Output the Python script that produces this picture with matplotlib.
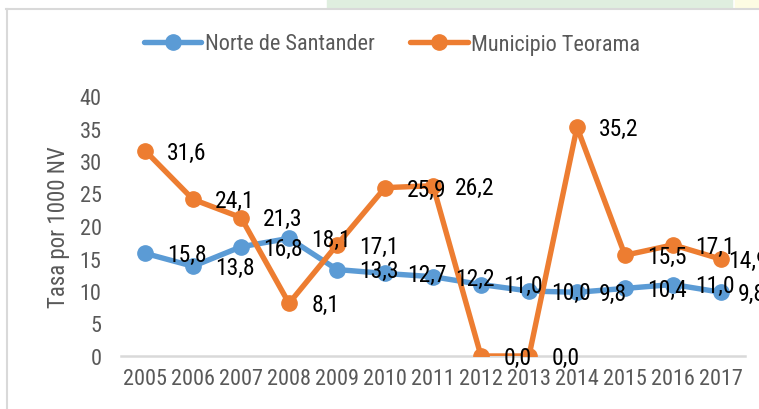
import matplotlib
matplotlib.use("Agg")
import matplotlib.pyplot as plt
from matplotlib import font_manager
from matplotlib.patches import Rectangle
from matplotlib.lines import Line2D

years = ["2005", "2006", "2007", "2008", "2009", "2010", "2011",
         "2012", "2013", "2014", "2015", "2016", "2017"]
norte = [15.8, 13.8, 16.8, 18.1, 13.3, 12.7, 12.2, 11.0, 10.0, 9.8, 10.4, 11.0, 9.8]
teorama = [31.6, 24.1, 21.3, 8.1, 17.1, 25.9, 26.2, 0.0, 0.0, 35.2, 15.5, 17.1, 14.9]
series_names = ["Norte de Santander", "Municipio Teorama"]
y_label = "Tasa por 1000 NV"

avail = {f.name for f in font_manager.fontManager.ttflist}
fam = "DejaVu Sans"
for cand in ["Liberation Sans Narrow", "Roboto Condensed", "Open Sans Condensed", "Liberation Sans"]:
    if cand in avail:
        fam = cand
        break
plt.rcParams["font.family"] = [fam, "DejaVu Sans"]

BLUE = "#5B9BD5"
ORANGE = "#ED7D31"
GREY = "#595959"

fig = plt.figure(figsize=(7.59, 4.10), dpi=100)
fig.patch.set_facecolor("white")

# top decorative strip and chart border
fig.patches.append(Rectangle((327/759, 1-9/410), (732-327)/759, 9/410,
                             transform=fig.transFigure, color="#DFEEDF", zorder=0))
fig.patches.append(Rectangle((735/759, 1-9/410), 24/759, 9/410,
                             transform=fig.transFigure, color="#FDFCE3", zorder=0))
fig.add_artist(Line2D([6/759, 1], [1-9.5/410, 1-9.5/410], transform=fig.transFigure,
                      color="#D9D9D9", lw=1.5))
fig.add_artist(Line2D([6.5/759, 6.5/759], [0, 1-9.5/410], transform=fig.transFigure,
                      color="#D9D9D9", lw=1.5))

ax = fig.add_axes([121/759, 1-357/410, (745-121)/759, (357-97)/410])
ax.set_facecolor("none")
x = list(range(len(years)))

ax.plot(x, norte, color=BLUE, lw=3.9, marker="o", ms=11, solid_capstyle="round",
        label=series_names[0], zorder=3)
ax.plot(x, teorama, color=ORANGE, lw=3.9, marker="o", ms=11, solid_capstyle="round",
        label=series_names[1], zorder=4)

n = len(years)
for series, last_off in ((norte, 12), (teorama, 5)):
    for i, v in enumerate(series):
        off = 16 if i < n - 1 else last_off
        ax.annotate(f"{v:.1f}".replace(".", ","), (i, v), xytext=(off, -1),
                    textcoords="offset points", ha="left", va="center",
                    fontsize=17, color="black", zorder=5, annotation_clip=False)

ax.set_xlim(-0.5, n - 0.5)
ax.set_ylim(0, 40)
ax.set_yticks(range(0, 41, 5))
ax.set_xticks(x)
ax.set_xticklabels(years)
ax.tick_params(axis="both", length=0, labelsize=16, colors=GREY)
ax.tick_params(axis="y", pad=14)
ax.tick_params(axis="x", pad=9)
for s in ["top", "right", "left"]:
    ax.spines[s].set_visible(False)
ax.spines["bottom"].set_color("#D9D9D9")
ax.spines["bottom"].set_linewidth(1.8)
ax.spines["bottom"].set_zorder(1)
ax.set_ylabel(y_label, fontsize=16.5, color=GREY, labelpad=7)

handles, labels = ax.get_legend_handles_labels()
fig.legend(handles, labels, loc="center", bbox_to_anchor=(392/759, 1-45/410),
           ncol=2, frameon=False, fontsize=16, labelcolor=GREY,
           handlelength=2.6, handletextpad=0.15, columnspacing=1.6)

fig.savefig("out.png", dpi=100)
